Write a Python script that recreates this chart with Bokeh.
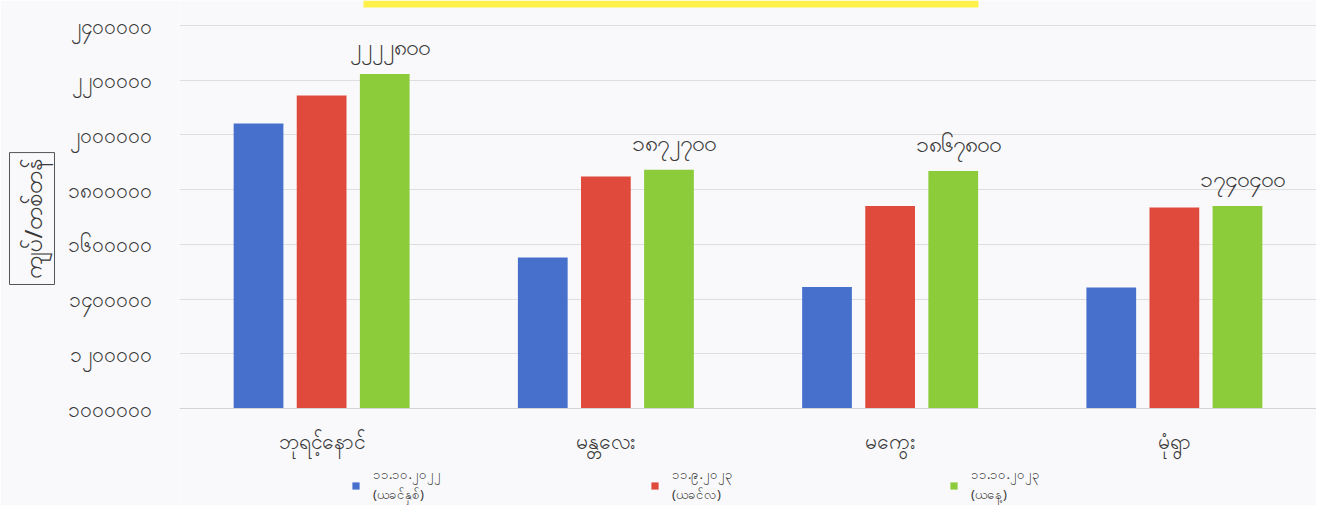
from bokeh.plotting import figure
from bokeh.models import (FactorRange, FixedTicker, Legend, LegendItem, Title,
                          BoxAnnotation, ColumnDataSource, Range1d)
from bokeh.transform import dodge
from bokeh.core.properties import value
from bokeh.embed import file_html
from bokeh.resources import INLINE

# ---------------- data ----------------
categories = ["ဘုရင့်နောင်", "မန္တလေး", "မကွေး", "မုံရွာ"]
series_names = ["၁၁.၁၀.၂၀၂၂\n(ယခင်နှစ်)", "၁၁.၉.၂၀၂၃\n(ယခင်လ)", "၁၁.၁၀.၂၀၂၃\n(ယနေ့)"]
prev_year = [2042000, 1552000, 1444000, 1442000]
prev_month = [2144000, 1848000, 1740000, 1735000]
today = [2222800, 1872700, 1867800, 1740400]
today_labels = ["၂၂၂၂၈၀၀", "၁၈၇၂၇၀၀", "၁၈၆၇၈၀၀", "၁၇၄၀၄၀၀"]
y_ticks = [1000000, 1200000, 1400000, 1600000, 1800000, 2000000, 2200000, 2400000]
y_tick_labels = ["၁၀၀၀၀၀၀", "၁၂၀၀၀၀၀", "၁၄၀၀၀၀၀", "၁၆၀၀၀၀၀",
                 "၁၈၀၀၀၀၀", "၂၀၀၀၀၀၀", "၂၂၀၀၀၀၀", "၂၄၀၀၀၀၀"]
y_label = "ကျပ်/တစ်တန်"

# ---------------- style / layout ----------------
FONT = "Noto Sans"
BG = "#f9f9fb"
COLORS = ["#4770CC", "#E04A3C", "#8CCB3A"]
TXT = "#383838"

W, H = 1316, 505
BASE_PX = 408      # canvas px (from top) of the baseline tick
TOP_PX = 25        # canvas px (from top) of the top tick
px_per_unit = (BASE_PX - TOP_PX) / (y_ticks[-1] - y_ticks[0])
y_start = y_ticks[0] - (H - BASE_PX) / px_per_unit
y_end = y_ticks[-1] + TOP_PX / px_per_unit

src = ColumnDataSource(dict(cat=categories, prev_year=prev_year, prev_month=prev_month,
                            today=today, lab=today_labels))

p = figure(x_range=FactorRange(*categories, range_padding=0),
           y_range=Range1d(y_start, y_end),
           width=W, height=H, output_backend="svg", toolbar_location=None,
           min_border_left=179, min_border_right=0, min_border_top=0,
           min_border_bottom=0)
p.background_fill_color = BG
p.border_fill_color = BG
p.outline_line_color = None

off = 0.222
bw = 0.175
r1 = p.vbar(x=dodge("cat", -off, range=p.x_range), top="prev_year", bottom=y_ticks[0],
            width=bw, source=src, color=COLORS[0], line_color=None)
r2 = p.vbar(x=dodge("cat", 0, range=p.x_range), top="prev_month", bottom=y_ticks[0],
            width=bw, source=src, color=COLORS[1], line_color=None)
r3 = p.vbar(x=dodge("cat", off, range=p.x_range), top="today", bottom=y_ticks[0],
            width=bw, source=src, color=COLORS[2], line_color=None)

p.text(x=dodge("cat", off, range=p.x_range), y="today", text="lab", source=src,
       text_font=value(FONT), text_font_size="23px", text_color=TXT,
       text_align="center", text_baseline="bottom", x_offset=5, y_offset=-12)

# axes
p.yaxis.ticker = FixedTicker(ticks=y_ticks)
p.yaxis.major_label_overrides = {t: l for t, l in zip(y_ticks, y_tick_labels)}
p.yaxis.major_label_text_font = FONT
p.yaxis.major_label_text_font_size = "21px"
p.yaxis.major_label_text_color = TXT
p.yaxis.major_label_standoff = 22
p.yaxis.axis_line_color = None
p.yaxis.major_tick_line_color = None
p.yaxis.minor_tick_line_color = None

p.xaxis.fixed_location = y_ticks[0]
p.xaxis.major_label_text_font = FONT
p.xaxis.major_label_text_font_size = "21px"
p.xaxis.major_label_text_color = TXT
p.xaxis.major_label_standoff = 12
p.xaxis.axis_line_color = "#d4d4d4"
p.xaxis.major_tick_line_color = None
p.xaxis.minor_tick_line_color = None

p.xgrid.grid_line_color = None
p.ygrid.grid_line_color = "#dedede"
p.ygrid.grid_line_width = 1

# boxed, rotated y-axis title
p.add_layout(Title(text=y_label, align="left", offset=221, vertical_align="top",
                   text_font=FONT, text_font_size="24px", text_font_style="normal",
                   text_color=TXT, border_line_color="#555555", border_line_width=1,
                   padding=6, standoff=16), "left")

# remnant of the yellow title banner at the top edge
p.add_layout(BoxAnnotation(left=184, right=799, top=H, bottom=H - 7,
                           left_units="screen", right_units="screen",
                           top_units="screen", bottom_units="screen",
                           fill_color="#FFF14A", fill_alpha=1, line_color=None))

legend = Legend(items=[LegendItem(label=series_names[0], renderers=[r1]),
                       LegendItem(label=series_names[1], renderers=[r2]),
                       LegendItem(label=series_names[2], renderers=[r3])],
                orientation="horizontal", location=(172, 0),
                glyph_width=9, glyph_height=9, label_standoff=13, label_width=277,
                spacing=0, padding=0, margin=0,
                background_fill_alpha=0, border_line_color=None,
                label_text_font=FONT, label_text_font_size="13px",
                label_text_line_height=1.35, label_text_color=TXT)
p.add_layout(legend)

open("out.html", "w").write(file_html(p, INLINE))
